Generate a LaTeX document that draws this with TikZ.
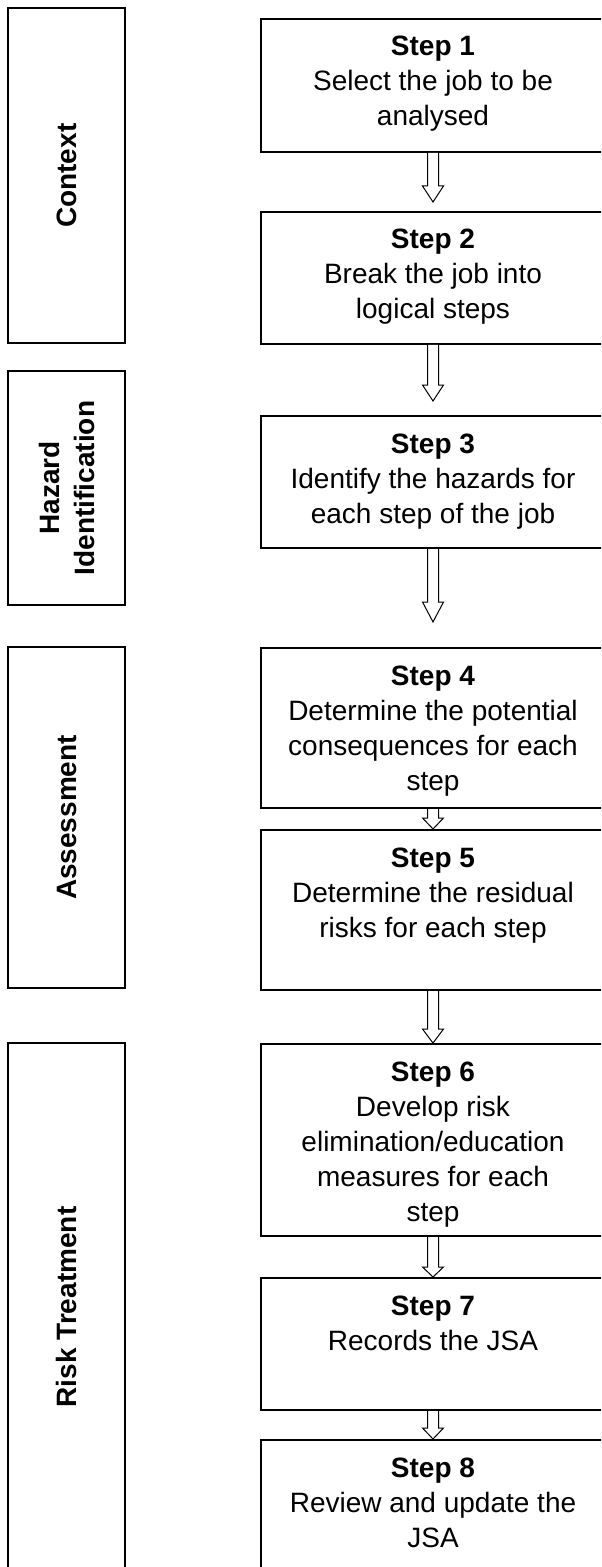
\documentclass[tikz,border=0pt]{standalone}
\usepackage{fontspec}
\setmainfont{Liberation Sans}
\usetikzlibrary{calc}

\newcommand{\steptext}[3]{\parbox[t][#1][t]{172pt}{\centering\rule{0pt}{18.5pt}\textbf{Step #2}\\#3}}

\begin{document}
\begin{tikzpicture}[x=0.5pt,y=-0.5pt,
	every node/.style={font=\fontsize{14pt}{17.5pt}\selectfont},
	step node/.style={draw,line width=1pt,inner sep=0pt,anchor=north},
	phase node/.style={draw,line width=1pt,rotate=90,minimum height=58.5pt,align=center,
		font=\fontsize{14pt}{17.5pt}\selectfont\bfseries},
	hollow arrow/.style={draw,line width=0.5pt,fill=white}
]

	\useasboundingbox (0,0) rectangle (601,1567);
	\clip (0,0) rectangle (601,1567);

	\def \cx {433};
	\def \px {66.8};

	\node[phase node,minimum width=167.5pt] (context) at (\px,175.7) {Context};
	\node[phase node,minimum width=117pt] (hazard) at (\px,488) {Hazard\\Identification};
	\node[phase node,minimum width=170.5pt] (assess) at (\px,817.5) {Assessment};
	\node[phase node,minimum width=264pt] (treat) at (\px,1307) {Risk Treatment};

	\node[step node] (s1) at (\cx,18) {\steptext{66.5pt}{1}{Select the job to be\\analysed}};
	\node[step node] (s2) at (\cx,211) {\steptext{66pt}{2}{Break the job into\\logical steps}};
	\node[step node] (s3) at (\cx,415) {\steptext{66pt}{3}{Identify the hazards for\\each step of the job}};
	\node[step node] (s4) at (\cx,647) {\steptext{80pt}{4}{Determine the potential\\consequences for each\\step}};
	\node[step node] (s5) at (\cx,829) {\steptext{80pt}{5}{Determine the residual\\risks for each step}};
	\node[step node] (s6) at (\cx,1043) {\steptext{96pt}{6}{Develop risk\\elimination/education\\measures for each\\step}};
	\node[step node] (s7) at (\cx,1277) {\steptext{66pt}{7}{Records the JSA}};
	\node[step node] (s8) at (\cx,1439) {\steptext{66pt}{8}{Review and update the\\JSA}};

	\foreach \a/\b/\gap/\len in {s1/s2/9/16, s2/s3/14/16, s3/s4/25/20, s4/s5/0/11, s5/s6/0/14, s6/s7/0/10, s7/s8/0/11} {
		\draw[hollow arrow] ($(\a.south)+(-5.5,0)$) -- ($(\b.north)+(-5.5,-\gap-\len)$)
			-- ($(\b.north)+(-10.5,-\gap-\len)$) -- ($(\b.north)+(0,-\gap)$)
			-- ($(\b.north)+(10.5,-\gap-\len)$) -- ($(\b.north)+(5.5,-\gap-\len)$)
			-- ($(\a.south)+(5.5,0)$);
	}
\end{tikzpicture}
\end{document}
